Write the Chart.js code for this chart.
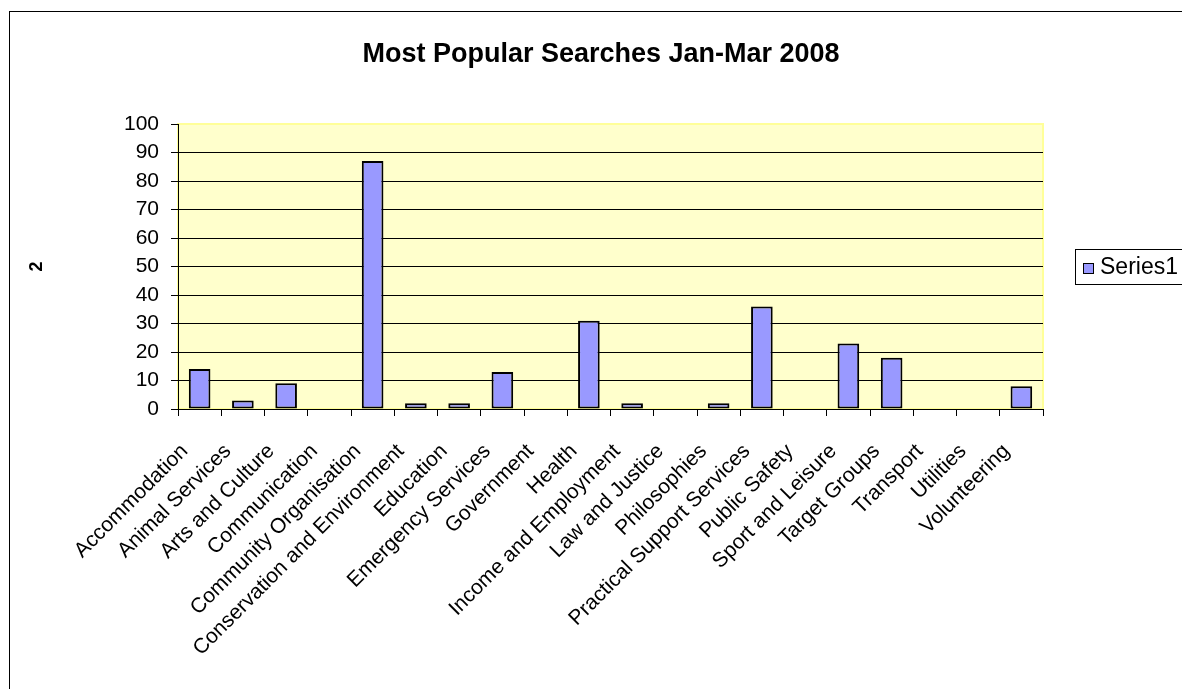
<!DOCTYPE html>
<html lang="en">
<head>
    <meta charset="UTF-8">
    <title>Most Popular Searches Jan-Mar 2008</title>
    <script src="https://cdn.jsdelivr.net/npm/chart.js"></script>
    <style>
        html, body { margin: 0; padding: 0; background: #fff; }
        #wrap { width: 1182px; height: 689px; position: relative; }
    </style>
</head>
<body>
    <div id="wrap">
        <canvas id="searchChart" width="1182" height="689"></canvas>
    </div>

    <script>
        // Chart data
        const categories = [
            'Accommodation', 'Animal Services', 'Arts and Culture', 'Communication',
            'Community Organisation', 'Conservation and Environment', 'Education',
            'Emergency Services', 'Government', 'Health', 'Income and Employment',
            'Law and Justice', 'Philosophies', 'Practical Support Services',
            'Public Safety', 'Sport and Leisure', 'Target Groups', 'Transport',
            'Utilities', 'Volunteering'
        ];
        const series1 = [14, 3, 9, 0, 87, 2, 2, 13, 0, 31, 2, 0, 2, 36, 0, 23, 18, 0, 0, 8];
        const seriesName = 'Series1';
        const chartTitle = 'Most Popular Searches Jan-Mar 2008';
        const yAxisTitle = '2';
        const yMin = 0, yMax = 100, yStep = 10;

        const FONT = "'Liberation Sans', Arial, sans-serif";
        const BAR_FILL = '#9999FF';

        // Plot background, outer frame and the boxed legend
        const decorations = {
            id: 'decorations',
            beforeDraw(chart) {
                const { ctx, chartArea: a } = chart;
                ctx.save();
                ctx.fillStyle = '#FFFFCC';
                ctx.fillRect(a.left, a.top, a.right - a.left, a.bottom - a.top);
                ctx.strokeStyle = '#FFFF99';
                ctx.lineWidth = 2;
                ctx.strokeRect(a.left, a.top, a.right - a.left, a.bottom - a.top);
                ctx.restore();
            },
            afterDraw(chart) {
                const { ctx } = chart;
                ctx.save();
                // outer chart frame (runs off the right and bottom edges)
                ctx.strokeStyle = '#000';
                ctx.lineWidth = 1;
                ctx.strokeRect(9.5, 11.5, 1200, 700);

                // legend box
                ctx.strokeRect(1075.5, 249.5, 140, 35);
                ctx.fillStyle = BAR_FILL;
                ctx.fillRect(1083, 263, 11, 11);
                ctx.strokeRect(1083.5, 263.5, 10, 10);
                ctx.fillStyle = '#000';
                ctx.font = '23px ' + FONT;
                ctx.textBaseline = 'middle';
                ctx.fillText(chart.data.datasets[0].label, 1100, 268);
                ctx.restore();
            }
        };

        new Chart(document.getElementById('searchChart'), {
            type: 'bar',
            data: {
                labels: categories,
                datasets: [{
                    label: seriesName,
                    data: series1,
                    backgroundColor: BAR_FILL,
                    borderColor: '#000',
                    borderWidth: 2,
                    borderSkipped: false,
                    barPercentage: 0.5,
                    categoryPercentage: 1.0
                }]
            },
            options: {
                responsive: false,
                animation: false,
                events: [],
                layout: {
                    padding: { top: 11, left: 20, right: 0, bottom: 0 }
                },
                plugins: {
                    legend: { display: false },
                    tooltip: { enabled: false },
                    title: {
                        display: true,
                        text: chartTitle,
                        color: '#000',
                        font: { family: FONT, size: 27, weight: 'bold', lineHeight: 1.2 },
                        padding: { top: 27, bottom: 53.6 }
                    }
                },
                scales: {
                    x: {
                        offset: true,
                        grid: {
                            offset: true,
                            drawOnChartArea: false,
                            drawTicks: true,
                            tickLength: 7,
                            color: '#000'
                        },
                        border: { color: '#000', width: 1 },
                        ticks: {
                            autoSkip: false,
                            minRotation: 45,
                            maxRotation: 45,
                            color: '#000',
                            padding: 23,
                            labelOffset: -15,
                            font: { family: FONT, size: 21 }
                        },
                        afterFit(scale) { scale.height = 689 - 409; }
                    },
                    y: {
                        min: yMin,
                        max: yMax,
                        ticks: {
                            stepSize: yStep,
                            color: '#000',
                            padding: 12,
                            font: { family: FONT, size: 21 }
                        },
                        grid: {
                            color: ctx => ctx.tick && ctx.tick.value === yMax ? 'rgba(0,0,0,0)' : '#000',
                            tickColor: '#000',
                            tickLength: 7,
                            lineWidth: 1
                        },
                        border: { color: '#000', width: 1 },
                        title: {
                            display: true,
                            text: yAxisTitle,
                            color: '#000',
                            font: { family: FONT, size: 18, weight: 'bold' },
                            padding: { top: 6 }
                        },
                        afterFit(scale) { scale.width = 158; }
                    },
                    // empty right-hand axis that keeps room for the legend
                    yLegend: {
                        position: 'right',
                        display: true,
                        grid: { display: false, drawTicks: false },
                        border: { display: false },
                        ticks: { display: false },
                        afterFit(scale) { scale.width = 1182 - 1043; }
                    }
                }
            },
            plugins: [decorations]
        });
    </script>
</body>
</html>
